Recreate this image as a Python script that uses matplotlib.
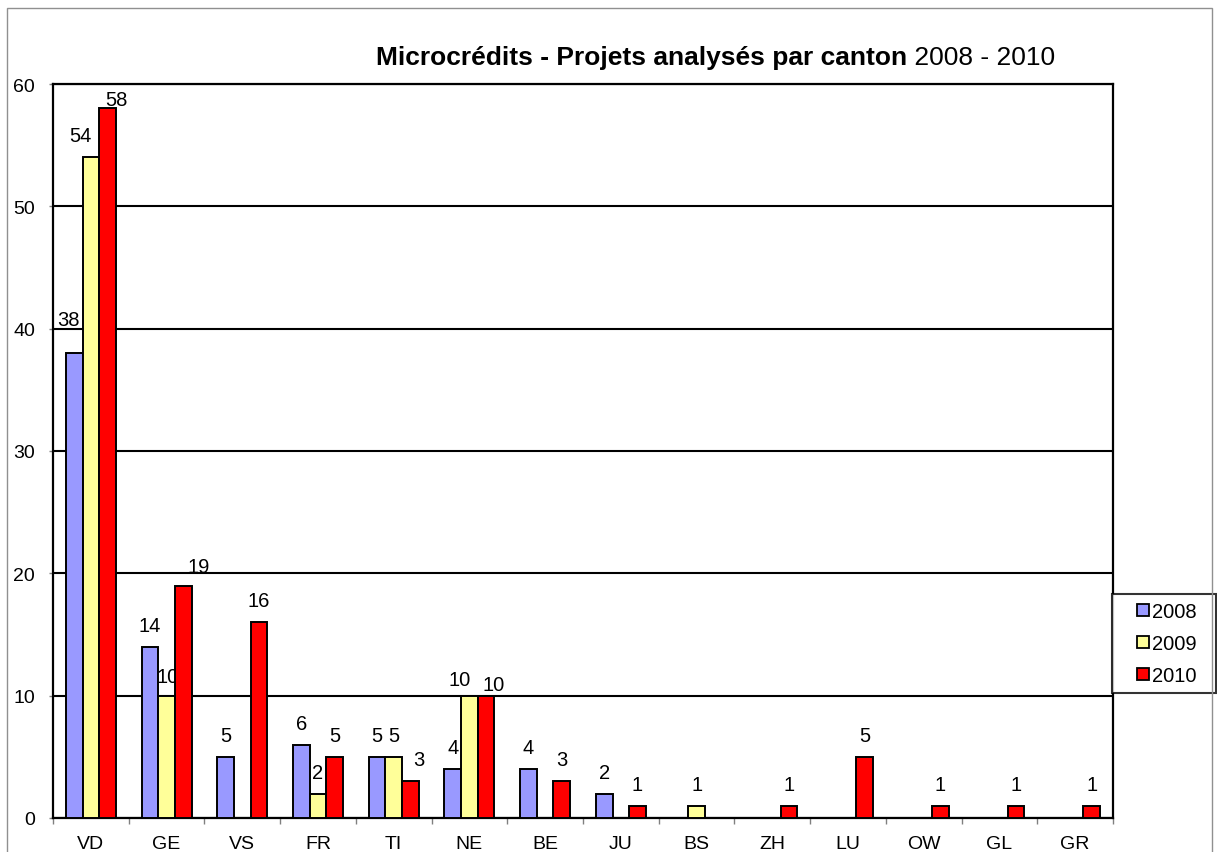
import matplotlib
matplotlib.use("Agg")
import matplotlib.pyplot as plt
from matplotlib.patches import Rectangle
from matplotlib.lines import Line2D
import numpy as np

plt.rcParams['font.family'] = ['Liberation Sans', 'DejaVu Sans']

cantons = ["VD", "GE", "VS", "FR", "TI", "NE", "BE", "JU", "BS", "ZH", "LU", "OW", "GL", "GR"]
years = ["2008", "2009", "2010"]
v2008 = [38, 14, 5, 6, 5, 4, 4, 2, 0, 0, 0, 0, 0, 0]
v2009 = [54, 10, 0, 2, 5, 10, 0, 0, 1, 0, 0, 0, 0, 0]
v2010 = [58, 19, 16, 5, 3, 10, 3, 1, 0, 1, 5, 1, 1, 1]
series = [v2008, v2009, v2010]
colors = ["#9999FF", "#FFFF99", "#FF0000"]

# label nudges (pixels: dx, dy) for labels moved away from the default spot
nudges = {
    (0, 0): (-6, 12), (1, 0): (-10, 0), (2, 0): (9, -13),
    (1, 1): (1, -2), (2, 1): (15, -2),
    (2, 4): (8, 0),
    (1, 5): (-10, -5), (2, 5): (8, -10),
}

W, H = 1217, 853
dpi = 100
fig = plt.figure(figsize=(W / dpi, H / dpi), dpi=dpi)
px2pt = 72 / dpi

# outer chart border
fig.patches.append(Rectangle((7 / W, -0.05), (1212 - 7) / W, 1.05 - 9 / H,
                             transform=fig.transFigure, fill=False,
                             edgecolor="#909090", linewidth=1.0))

ax = fig.add_axes([53 / W, 1 - 819 / H, (1113 - 53) / W, (819 - 85) / H])
x = np.arange(len(cantons))
bw = 0.22
offsets = [-bw, 0, bw]

for si, (vals, col, yr) in enumerate(zip(series, colors, years)):
    xs = [xi + offsets[si] for xi, v in zip(x, vals) if v > 0]
    hs = [v for v in vals if v > 0]
    ax.bar(xs, hs, width=bw, color=col, edgecolor="black", linewidth=1.4,
           label=yr, zorder=3)
    for ci, v in enumerate(vals):
        if v <= 0:
            continue
        dx, dy = nudges.get((si, ci), (0, 0))
        ax.annotate(str(v), xy=(ci + offsets[si], v),
                    xytext=(dx * px2pt, (16 + dy) * px2pt), textcoords="offset points",
                    ha="center", va="baseline", fontsize=14.5, zorder=2)

ax.set_xlim(-0.5, len(cantons) - 0.5)
ax.set_ylim(0, 60)
ax.set_yticks(range(0, 61, 10))
ax.yaxis.grid(True, color="black", linewidth=1.5, zorder=0)
ax.set_axisbelow(True)
ax.set_xticks(x)
ax.set_xticklabels(cantons)
ax.set_xticks(np.arange(-0.5, len(cantons), 1.0), minor=True)
ax.tick_params(axis="x", which="major", length=0, pad=12, labelsize=14)
ax.tick_params(axis="x", which="minor", length=4, color="#808080", width=1)
ax.tick_params(axis="y", length=3, color="#808080", width=1, pad=10, labelsize=14)
for s in ax.spines.values():
    s.set_color("black")
    s.set_linewidth(1.6)

handles = [Line2D([], [], marker="s", markersize=9, markerfacecolor=c,
                  markeredgecolor="black", markeredgewidth=1.3, linestyle="none")
           for c in colors]
leg = ax.legend(handles, [y + "  " for y in years], loc="upper left",
                bbox_to_anchor=(1112 / W, 1 - 595 / H),
                bbox_transform=fig.transFigure, borderaxespad=0, fontsize=14.5,
                frameon=True, fancybox=False, edgecolor="black",
                handlelength=2.3, handletextpad=-0.7,
                labelspacing=0.65, borderpad=0.4)
leg.get_frame().set_linewidth(1.5)

t1 = fig.text(376 / W, 1 - 65 / H, "Microcrédits - Projets analysés par canton",
              fontsize=19, fontweight="bold", ha="left", va="baseline")
ax.annotate(" 2008 - 2010", xy=(1, 0), xycoords=t1, fontsize=19,
            ha="left", va="bottom", annotation_clip=False)

fig.savefig("out.png", dpi=dpi)
